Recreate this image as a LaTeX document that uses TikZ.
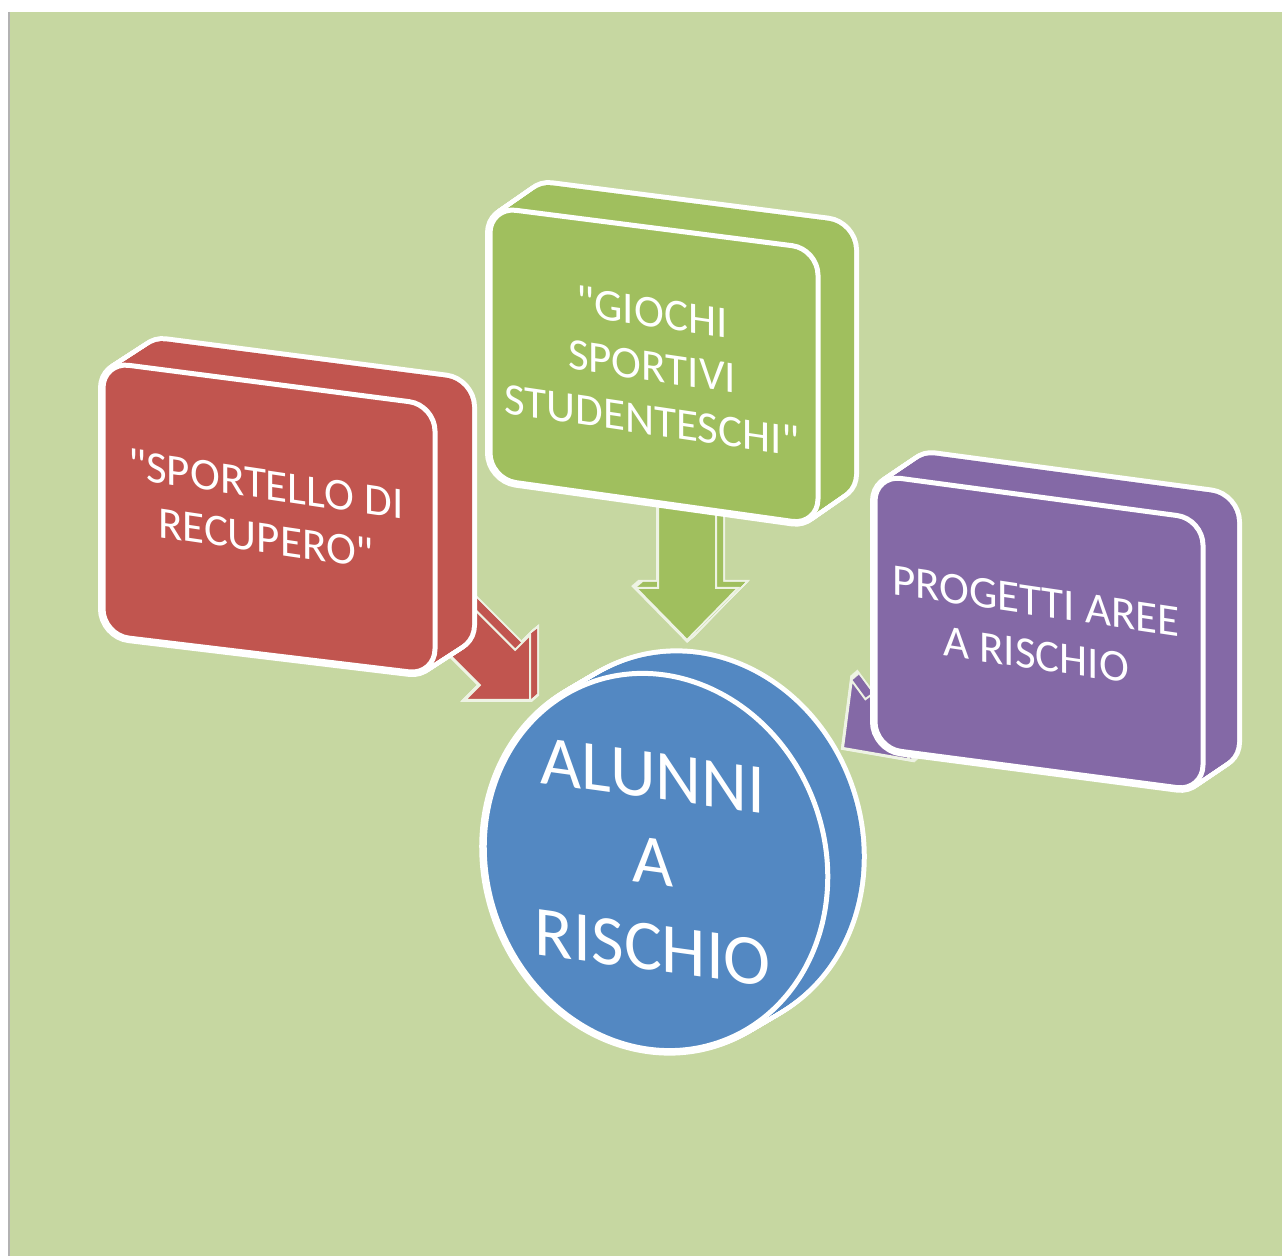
\documentclass[tikz,border=0pt]{standalone}
\usepackage{fontspec}
\setmainfont{Carlito}[Ligatures=TeXOff]
\definecolor{paper}{HTML}{C6D7A1}
\definecolor{redbox}{HTML}{C1554F}
\definecolor{greenbox}{HTML}{A0BF5E}
\definecolor{purplebox}{HTML}{8469A6}
\definecolor{bluedisc}{HTML}{5388C2}
\definecolor{rim}{HTML}{EEF3E4}
% #1 fill, #2 dx, #3 dy, #4 outline colour, #5 outline width, #6 path
\newcommand\extruded[6]{%
  \foreach \i in {0,...,24}{\path[draw=#4,line width=2*#5,shift={(#2*\i/24,#3*\i/24)}] #6;}
  \foreach \i in {0,...,24}{\path[fill=#1,shift={(#2*\i/24,#3*\i/24)}] #6;}
  \path[draw=#4,line width=#5,fill=#1] #6;}
\begin{document}
\begin{tikzpicture}[x=.5pt,y=-.5pt,
  boxtext/.style={text=white,align=center,yslant=-.148,inner sep=0pt,font=\fontsize{22.5}{27}\selectfont},
  disctext/.style={text=white,align=center,yslant=-.138,inner sep=0pt,font=\fontsize{35.5}{43}\selectfont}]
  \useasboundingbox (0,0) rectangle (1282,1256);
  \fill[white] (0,0) rectangle (1282,1256);
  \fill[paper] (9,12) rectangle (1282,1256);
  \draw[gray!60,line width=1pt] (8.5,12) -- (8.5,1256);
  % arrows
  \extruded{redbox}{7}{-6}{rim}{1pt}{[shift={(530,700)},rotate=-45] (0,0) -- (-46,46) -- (-46,25) -- (-131,25) -- (-131,-25) -- (-46,-25) -- (-46,-46) -- cycle}
  \extruded{greenbox}{7}{-6}{rim}{1pt}{[shift={(687,640)},rotate=-90] (0,0) -- (-52,51) -- (-52,29) -- (-152,29) -- (-152,-29) -- (-52,-29) -- (-52,-51) -- cycle}
  \extruded{purplebox}{7}{-6}{rim}{1pt}{[shift={(843,748)},rotate=-143.6] (0,0) -- (-47,49) -- (-47,26) -- (-137,26) -- (-137,-26) -- (-47,-26) -- (-47,-49) -- cycle}
  % boxes
  \extruded{redbox}{37}{-24}{white}{2.5pt}{[rounded corners=13pt] (103,362) -- (435,405) -- (435,675) -- (103,635) -- cycle}
  \extruded{greenbox}{36}{-25}{white}{2.5pt}{[rounded corners=13pt] (490,207) -- (818,249) -- (818,525) -- (490,479) -- cycle}
  \extruded{purplebox}{34}{-23}{white}{2.5pt}{[rounded corners=13pt] (875,475) -- (1203,519) -- (1203,791) -- (875,748) -- cycle}
  % disc
  \extruded{bluedisc}{34}{-20}{white}{2.5pt}{(656,862) circle [x radius=169,y radius=191,rotate=20]}
  \node[boxtext] (sportello) at (266,511) {"SPORTELLO DI\\RECUPERO"};
  \node[boxtext] (giochi) at (652,366) {"GIOCHI\\SPORTIVI\\STUDENTESCHI"};
  \node[boxtext] (progetti) at (1036,628) {PROGETTI AREE\\A RISCHIO};
  \node[disctext] (alunni) at (653,862) {ALUNNI\\A\\RISCHIO};
\end{tikzpicture}
\end{document}
